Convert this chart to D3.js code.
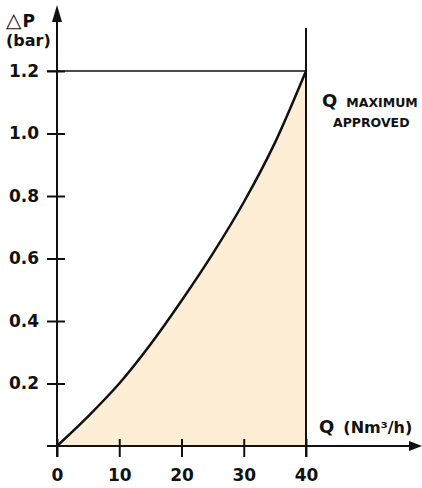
<!DOCTYPE html>
<html>
<head>
<meta charset="utf-8">
<script src="https://cdn.jsdelivr.net/npm/d3@7"></script>
<style>
  body { margin: 0; background: #fff; }
  svg { display: block; }
  text { font-family: "DejaVu Sans", sans-serif; font-weight: bold; fill: #111; }
</style>
</head>
<body>
<div id="chart"></div>
<script>

// flow Q (Nm3/h) and pressure drop (bar)
const flow = [0, 5, 10, 15, 20, 25, 30, 35, 40];
const pressureDrop = [0, 0.095, 0.2, 0.325, 0.465, 0.615, 0.78, 0.97, 1.2];

const xTicks = [0, 10, 20, 30, 40];
const yTicks = [0.2, 0.4, 0.6, 0.8, 1.0, 1.2];
const maxFlow = 40;
const maxDrop = 1.2;

let width = 422, height = 488;

let svg = d3.select("#chart").append("svg")
	.attr("width", width)
	.attr("height", height);

// Scales
let x = d3.scaleLinear()
	.domain([0, 40])
	.range([57, 306]);

let y = d3.scaleLinear()
	.domain([0, 1.2])
	.range([446, 71]);

let data = flow.map((q, i) => ({ q: q, p: pressureDrop[i] }));

// Area under the curve
let area = d3.area()
	.curve(d3.curveMonotoneX)
	.x(d => x(d.q))
	.y0(y(0))
	.y1(d => y(d.p));

svg.append("path")
	.datum(data)
	.attr("d", area)
	.attr("fill", "#fdeed5");

// Guide lines for the maximum
svg.append("line")
	.attr("x1", x(0) - 10)
	.attr("x2", x(maxFlow))
	.attr("y1", y(maxDrop))
	.attr("y2", y(maxDrop))
	.attr("stroke", "#111")
	.attr("stroke-width", 1.5);

svg.append("line")
	.attr("x1", x(maxFlow))
	.attr("x2", x(maxFlow))
	.attr("y1", 28)
	.attr("y2", y(0) + 11)
	.attr("stroke", "#111")
	.attr("stroke-width", 2);

// Curve
let line = d3.line()
	.curve(d3.curveMonotoneX)
	.x(d => x(d.q))
	.y(d => y(d.p));

svg.append("path")
	.datum(data)
	.attr("d", line)
	.attr("fill", "none")
	.attr("stroke", "#111")
	.attr("stroke-width", 2.5);

// Axes
let xAxis = d3.axisBottom(x)
	.tickValues(xTicks)
	.tickFormat(d3.format("d"))
	.tickSize(11)
	.tickPadding(12);

let yAxis = d3.axisLeft(y)
	.tickValues(yTicks)
	.tickFormat(d3.format(".1f"))
	.tickSize(10)
	.tickPadding(8);

let gx = svg.append("g")
	.attr("transform", "translate(0," + y(0) + ")")
	.call(xAxis);

let gy = svg.append("g")
	.attr("transform", "translate(" + x(0) + ",0)")
	.call(yAxis);

[gx, gy].forEach(g => {
	g.select(".domain").remove();
	g.selectAll(".tick line").attr("stroke", "#111").attr("stroke-width", 2);
	g.selectAll(".tick text")
		.attr("fill", "#111")
		.style("font-family", "DejaVu Sans")
		.style("font-weight", "bold")
		.style("font-size", "17px");
});

// ticks cross the axis lines
gx.selectAll(".tick line").attr("y1", -7);
gy.selectAll(".tick line").attr("x1", 8);

// Axis lines with arrows
svg.append("line")
	.attr("x1", x(0))
	.attr("x2", x(0))
	.attr("y1", y(0) + 11)
	.attr("y2", 18)
	.attr("stroke", "#111")
	.attr("stroke-width", 2);

svg.append("path")
	.attr("d", "M" + x(0) + ",5 L" + (x(0) + 5) + ",22 L" + (x(0) - 5) + ",22 Z")
	.attr("fill", "#111");

svg.append("line")
	.attr("x1", x(0) - 10)
	.attr("x2", 412)
	.attr("y1", y(0))
	.attr("y2", y(0))
	.attr("stroke", "#111")
	.attr("stroke-width", 2);

svg.append("path")
	.attr("d", "M422," + y(0) + " L409," + (y(0) - 5) + " L409," + (y(0) + 5) + " Z")
	.attr("fill", "#111");

// Axis titles
let yTitle = svg.append("text")
	.attr("x", 6)
	.attr("y", 27);
yTitle.append("tspan")
	.attr("font-weight", "normal")
	.style("font-size", "20px")
	.text("△");
yTitle.append("tspan")
	.style("font-size", "17px")
	.attr("dx", 1)
	.text("P");

svg.append("text")
	.attr("x", 6)
	.attr("y", 46)
	.style("font-size", "16px")
	.text("(bar)");

let xTitle = svg.append("text")
	.attr("x", 319)
	.attr("y", 433);
xTitle.append("tspan")
	.style("font-size", "18px")
	.style("font-weight", "900")
	.text("Q");
xTitle.append("tspan")
	.style("font-size", "16px")
	.attr("dx", 9)
	.text("(Nm³/h)");

// Maximum label
let maxLabel = svg.append("text")
	.attr("x", 322)
	.attr("y", 107);
maxLabel.append("tspan")
	.style("font-size", "18px")
	.text("Q");
maxLabel.append("tspan")
	.style("font-size", "12.5px")
	.attr("dx", 9)
	.text("MAXIMUM");

svg.append("text")
	.attr("x", 333)
	.attr("y", 127)
	.style("font-size", "12.5px")
	.text("APPROVED");

</script>
</body>
</html>
